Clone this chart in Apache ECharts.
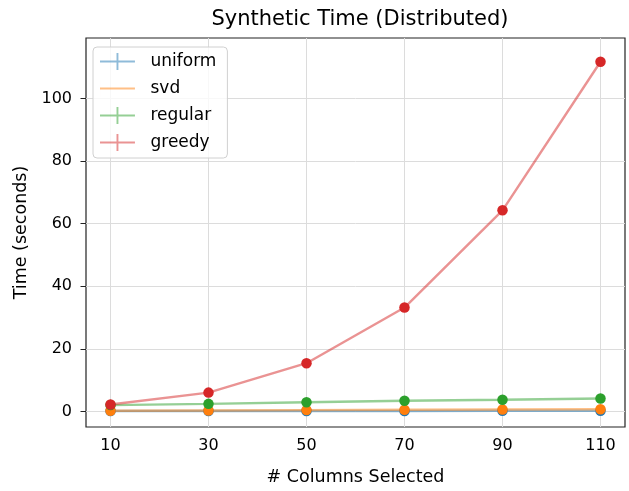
<!DOCTYPE html>
<html>
<head>
<meta charset="utf-8">
<script src="https://cdn.jsdelivr.net/npm/echarts@6/dist/echarts.min.js"></script>
<style>
  html, body { margin: 0; padding: 0; background: #fff; }
  #chart { width: 629px; height: 491px; }
</style>
</head>
<body>
<div id="chart"></div>
<script>
  // 数据
  var columns = [10, 30, 50, 70, 90, 110];
  var uniform = [0.1, 0.1, 0.1, 0.1, 0.2, 0.2];
  var svd = [0.2, 0.3, 0.4, 0.5, 0.6, 0.7];
  var regular = [2.0, 2.4, 2.9, 3.4, 3.7, 4.1];
  var greedy = [2.2, 6.0, 15.4, 33.2, 64.3, 111.8];
  var yTicks = [0, 20, 40, 60, 80, 100];

  var font = 'DejaVu Sans';
  // 图例图标 (误差线样式的十字)
  var crossIcon = 'path://M0,8h37v2h-37z M17.5,0h2v18h-2z';
  var lineIcon = 'path://M0,8h37v2h-37z M0,0h0.01v18h-0.01z';

  function pairs(ys) {
    return columns.map(function (x, i) { return [x, ys[i]]; });
  }

  function mkSeries(name, color, ys) {
    return {
      name: name,
      type: 'line',
      z: 3,
      data: pairs(ys),
      symbol: 'circle',
      symbolSize: 10.5,
      itemStyle: {color: color, opacity: 1},
      lineStyle: {color: color, width: 2.4, opacity: 0.5},
      emphasis: {disabled: true}
    };
  }

  var myChart = echarts.init(document.getElementById('chart'));
  var option = {
    animation: false,
    title: {
      text: 'Synthetic Time (Distributed)',
      left: 355, top: 4, textAlign: 'center',
      textStyle: {fontFamily: font, fontSize: 21, fontWeight: 'normal', color: '#000'}
    },
    grid: {
      left: 86, right: 4, top: 38, bottom: 60,
      show: true, borderColor: '#222', borderWidth: 1.2, backgroundColor: 'transparent'
    },
    legend: {
      orient: 'vertical',
      left: 93, top: 47,
      padding: [6, 11, 7, 7],
      itemWidth: 38, itemHeight: 17,
      itemGap: 10,
      backgroundColor: 'rgba(255,255,255,0.8)',
      borderColor: '#d0d0d0', borderWidth: 1, borderRadius: 4,
      textStyle: {fontFamily: font, fontSize: 17, color: '#000', padding: [0, 0, 0, 9]},
      data: [
        {name: 'uniform', icon: crossIcon, itemStyle: {opacity: 0.5}},
        {name: 'svd', icon: lineIcon, itemStyle: {opacity: 0.5}},
        {name: 'regular', icon: crossIcon, itemStyle: {opacity: 0.5}},
        {name: 'greedy', icon: crossIcon, itemStyle: {opacity: 0.5}}
      ]
    },
    xAxis: {
      type: 'value', min: 5, max: 115,
      name: '# Columns Selected', nameLocation: 'middle', nameGap: 41,
      nameTextStyle: {fontFamily: font, fontSize: 17.5, color: '#000'},
      axisLine: {show: false},
      axisTick: {show: true, length: 5.5, customValues: columns, lineStyle: {color: '#222'}},
      axisLabel: {customValues: columns, fontFamily: font, fontSize: 16, color: '#000', margin: 11},
      splitLine: {show: false}
    },
    yAxis: {
      type: 'value', min: -5, max: 119.4,
      name: 'Time (seconds)', nameLocation: 'middle', nameGap: 53,
      nameTextStyle: {fontFamily: font, fontSize: 17.5, color: '#000'},
      axisLine: {show: false},
      axisTick: {show: true, length: 5.5, customValues: yTicks, lineStyle: {color: '#222'}},
      axisLabel: {customValues: yTicks, fontFamily: font, fontSize: 16, color: '#000', margin: 14},
      splitLine: {show: false}
    },
    series: [
      // 网格线
      {
        name: 'grid',
        type: 'line',
        z: 1,
        data: [],
        markLine: {
          silent: true,
          z: 1,
          symbol: 'none',
          label: {show: false},
          lineStyle: {color: '#dcdcdc', width: 1, type: 'solid'},
          data: columns.map(function (v) { return {xAxis: v}; })
            .concat(yTicks.map(function (v) { return {yAxis: v}; }))
        }
      },
      mkSeries('uniform', '#1f77b4', uniform),
      mkSeries('svd', '#ff7f0e', svd),
      mkSeries('regular', '#2ca02c', regular),
      mkSeries('greedy', '#d62728', greedy)
    ]
  };
  myChart.setOption(option, true);
</script>
</body>
</html>
